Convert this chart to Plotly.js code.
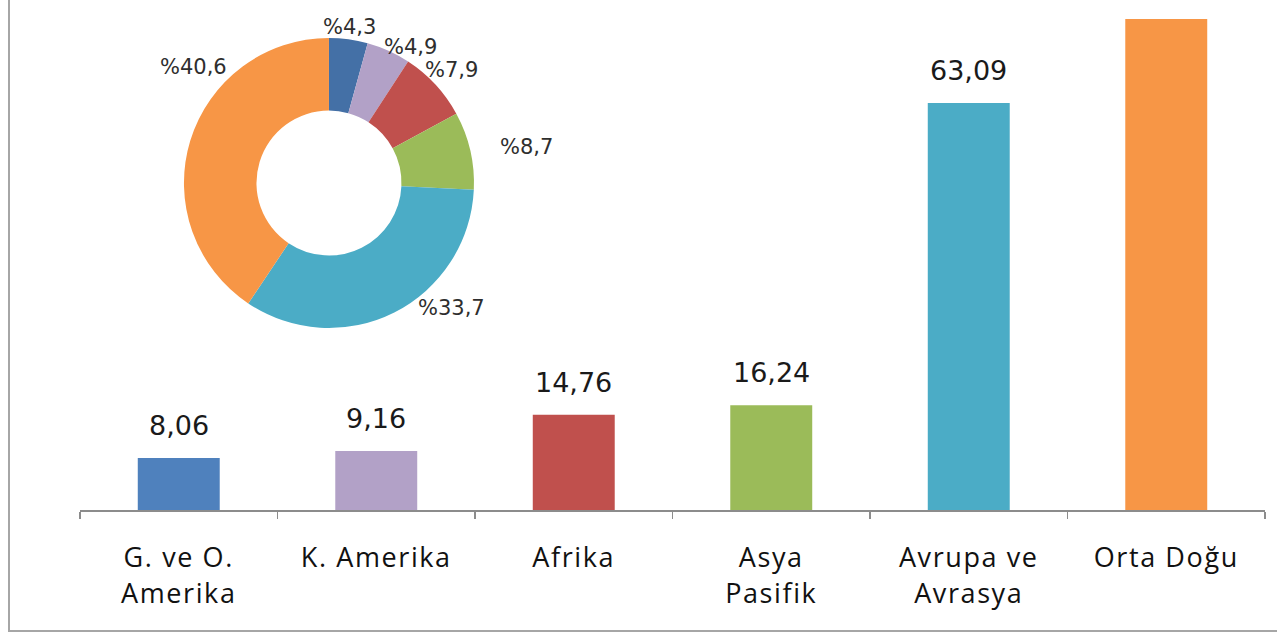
<!DOCTYPE html>
<html>
<head>
<meta charset="utf-8">
<script src="https://cdn.plot.ly/plotly-3.0.1.min.js"></script>
<style>
  html, body { margin: 0; padding: 0; background: #fff; }
  #chart { position: absolute; left: 0; top: 0; width: 1277px; height: 635px; }
  #frame { position: absolute; left: 8px; top: -2px; width: 1275px; height: 632px;
           border-left: 2px solid #a6a6a6; border-bottom: 2px solid #a6a6a6; pointer-events: none; }
  #chart .xtick text { letter-spacing: 1.6px; }
</style>
</head>
<body>
<div id="chart"></div>
<div id="frame"></div>
<script>
// ---- data ----
const categories = ['G. ve O.<br>Amerika', 'K. Amerika', 'Afrika', 'Asya<br>Pasifik', 'Avrupa ve<br>Avrasya', 'Orta Doğu'];
const values = [8.06, 9.16, 14.76, 16.24, 63.09, 76.1];
const barLabels = ['8,06', '9,16', '14,76', '16,24', '63,09', ''];
const pieLabels = ['%4,3', '%4,9', '%7,9', '%8,7', '%33,7', '%40,6'];
const barColors = ['#4F81BD', '#B2A1C7', '#C0504D', '#9BBB59', '#4BACC6', '#F79646'];
const pieColors = ['#4470A6', '#B2A1C7', '#C0504D', '#9BBB59', '#4BACC6', '#F79646'];

// label placement for the doughnut's percentage labels (paper coordinates)
const pieLabelX = [0.2278, 0.2793, 0.3139, 0.3772, 0.3139, 0.0954];
const pieLabelY = [0.966, 0.926, 0.880, 0.726, 0.404, 0.886];

const bar = {
  type: 'bar',
  x: categories,
  y: values,
  marker: { color: barColors, line: { width: 0 } },
  hoverinfo: 'skip',
  showlegend: false
};

const pie = {
  type: 'pie',
  labels: categories,
  values: values,
  textinfo: 'none',
  hole: 0.5,
  sort: false,
  direction: 'clockwise',
  rotation: 0,
  marker: { colors: pieColors, line: { width: 0 } },
  domain: { x: [0.0877, 0.3325], y: [0.364, 0.944] },
  showlegend: false,
  hoverinfo: 'skip'
};

const barAnn = categories.map((c, i) => ({
  x: c, y: values[i], xref: 'x', yref: 'y',
  text: barLabels[i], showarrow: false,
  yanchor: 'bottom', yshift: 15,
  font: { family: 'DejaVu Sans', size: 27, color: '#1a1a1a' }
}));

const pieAnn = pieLabels.map((t, i) => ({
  x: pieLabelX[i], y: pieLabelY[i], xref: 'paper', yref: 'paper',
  text: t, showarrow: false, xanchor: 'center', yanchor: 'middle',
  font: { family: 'DejaVu Sans', size: 21, color: '#2e2e2e' }
}));

const layout = {
  width: 1277, height: 635,
  margin: { l: 80, r: 12, t: 10, b: 125 },
  paper_bgcolor: '#ffffff', plot_bgcolor: '#ffffff',
  separators: ',.',
  bargap: 0.585,
  xaxis: {
    type: 'category',
    showline: true, linecolor: '#8c8c8c', linewidth: 2,
    ticks: 'outside', tickson: 'boundaries', ticklen: 7, tickcolor: '#8c8c8c', tickwidth: 1.5,
    tickfont: { family: 'Open Sans', size: 27, color: '#111111' },
    ticklabelstandoff: 23,
    showgrid: false, zeroline: false, fixedrange: true
  },
  yaxis: {
    range: [0, 77.5], visible: false, showgrid: false, zeroline: false, fixedrange: true
  },
  annotations: barAnn.concat(pieAnn),
  showlegend: false
};

Plotly.newPlot('chart', [bar, pie], layout, { staticPlot: true, displayModeBar: false });
</script>
</body>
</html>
